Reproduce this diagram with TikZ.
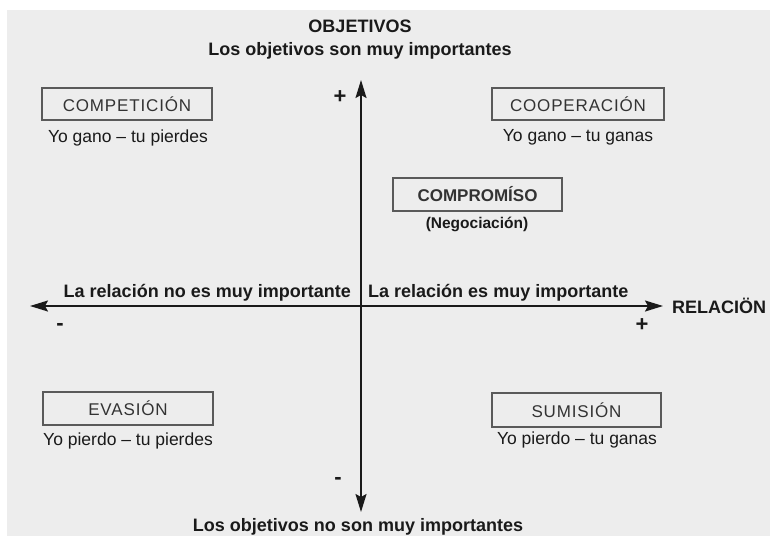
\documentclass[tikz,border=0pt]{standalone}
\usepackage{fontspec}
\setmainfont{Liberation Sans}
\newfontfamily\boxfont[LetterSpace=5]{Liberation Sans}
\usetikzlibrary{arrows.meta}
\definecolor{bg}{HTML}{EDEDED}
\definecolor{ink}{HTML}{1A1A1A}
\definecolor{boxline}{HTML}{5A5A5A}
\definecolor{boxtext}{HTML}{333333}
\tikzset{
  title/.style={font=\bfseries\fontsize{18}{20}\selectfont, text=ink, inner sep=0pt},
  quad/.style={draw=boxline, line width=1.2pt, minimum width=170pt, minimum height=32pt,
    font=\boxfont\fontsize{17}{19}\selectfont, text=boxtext, inner sep=0pt},
  sub/.style={font=\fontsize{17.5}{19}\selectfont, text=ink, inner sep=0pt},
  sign/.style={font=\bfseries\fontsize{22}{24}\selectfont, text=ink, inner sep=0pt},
  axisline/.style={line width=1.8pt, draw=ink,
    {Stealth[length=18pt,width=11pt,inset=3pt]}-{Stealth[length=18pt,width=11pt,inset=3pt]}}
}
\begin{document}
\begin{tikzpicture}[x=1pt,y=-1pt]
\useasboundingbox (0,0) rectangle (770,536);
\fill[white] (0,0) rectangle (770,536);
\fill[bg] (7,10) rectangle (770,536);
\clip (0,0) rectangle (770,536);

% titles
\node[title, anchor=base] (obj) at (360,32) {OBJETIVOS};
\node[title, anchor=base] (objhi) at (360,55) {Los objetivos son muy importantes};
\node[title, anchor=base] (objlo) at (358,531) {Los objetivos no son muy importantes};
\node[title, anchor=base west] (rel) at (672,313) {RELACIÖN};

% axes
\coordinate (top) at (361,80);
\coordinate (bot) at (361,512);
\coordinate (left) at (30,306);
\coordinate (right) at (663,306);
\draw[axisline] (bot) -- (top);
\draw[axisline] (left) -- (right);

% axis labels
\node[title, anchor=base east] (relno) at (351,297) {La relación no es muy importante};
\node[title, anchor=base west] (relsi) at (368,297) {La relación es muy importante};

% signs
\node[sign] (ptop) at (340,97) {+};
\node[sign] (mbot) at (338,481) {-};
\node[sign] (mleft) at (60,327) {-};
\node[sign] (pright) at (642,325) {+};

% boxes
\node[quad] (comp) at (127,104) {COMPETICIÓN};
\node[sub] (compt) at (128,138) {Yo gano – tu pierdes};
\node[quad, minimum width=172pt] (coop) at (578,104) {COOPERACIÓN};
\node[sub] (coopt) at (578,137) {Yo gano – tu ganas};
\node[quad, minimum width=169pt, minimum height=33pt, font=\bfseries\fontsize{17}{19}\selectfont] (compro) at (477.5,194.5) {COMPROMÍSO};
\node[sub, font=\bfseries\fontsize{15.5}{17}\selectfont] (negt) at (477,224) {(Negociación)};
\node[quad, minimum height=33pt] (evas) at (128,408.5) {EVASIÓN};
\node[sub] (evast) at (128,441) {Yo pierdo – tu pierdes};
\node[quad, minimum width=169pt, minimum height=34pt] (sumi) at (576.5,410) {SUMISIÓN};
\node[sub] (sumit) at (577,440) {Yo pierdo – tu ganas};
\end{tikzpicture}
\end{document}
